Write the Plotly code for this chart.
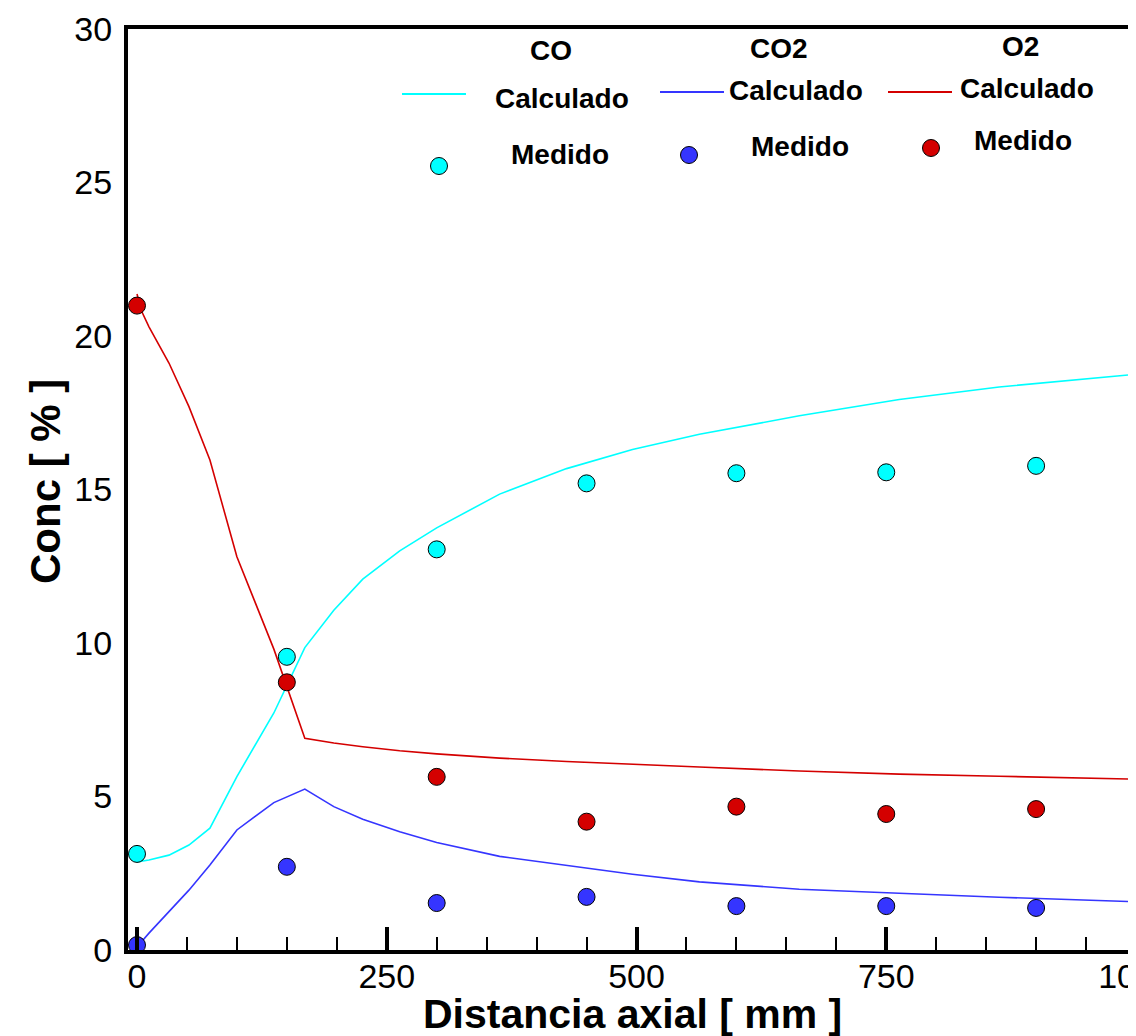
import plotly.graph_objects as go

# ---------------- data ----------------
x_calc = [0, 5, 12, 32, 52, 73, 100, 137, 168, 197, 226, 263, 300, 363, 430, 496, 563, 663, 763, 863, 992]
co_calc = [2.87, 2.89, 2.93, 3.09, 3.42, 3.97, 5.65, 7.72, 9.85, 11.07, 12.08, 13.0, 13.75, 14.85, 15.68,
           16.3, 16.8, 17.4, 17.93, 18.34, 18.73]
co2_calc = [0.1, 0.3, 0.55, 1.25, 1.95, 2.77, 3.91, 4.8, 5.24, 4.67, 4.26, 3.85, 3.5, 3.05, 2.75,
            2.47, 2.22, 1.98, 1.85, 1.72, 1.58]
o2_calc = [21.37, 20.78, 20.3, 19.12, 17.7, 15.96, 12.81, 9.8, 6.9, 6.74, 6.62, 6.49, 6.39, 6.25, 6.14,
           6.04, 5.96, 5.83, 5.73, 5.66, 5.57]

x_meas = [0, 150, 300, 450, 600, 750, 900]
co_meas = [3.13, 9.55, 13.05, 15.2, 15.53, 15.56, 15.77]
co2_meas = [0.16, 2.71, 1.53, 1.73, 1.43, 1.43, 1.37]
o2_meas = [20.99, 8.72, 5.64, 4.18, 4.67, 4.43, 4.59]

x_ticks = [0, 250, 500, 750, 1000]
y_ticks = [0, 5, 10, 15, 20, 25, 30]

CYAN = "#00FFFF"
BLUE = "#3535FF"
RED = "#D40000"
FONT = "Liberation Sans, Arial, sans-serif"

# ---------------- layout geometry ----------------
# the page body adds an 8 px offset; figure coords = screen coords - 8
OFF = 8
W, H = 1128, 1028
L, R, T, B = 120, 1128, 21, 942   # plot area in figure pixels


def px(xs):
    """screen x pixel -> paper fraction"""
    return (xs - OFF - L) / (R - L)


def py(ys):
    """screen y pixel -> paper fraction"""
    return (B - (ys - OFF)) / (B - T)


fig = go.Figure()

for xs, ys, c in [(x_calc, co_calc, CYAN), (x_calc, co2_calc, BLUE), (x_calc, o2_calc, RED)]:
    fig.add_trace(go.Scatter(x=xs, y=ys, mode="lines", line=dict(color=c, width=1.6),
                             showlegend=False, hoverinfo="skip"))

for xs, ys, c in [(x_meas, co_meas, CYAN), (x_meas, co2_meas, BLUE), (x_meas, o2_meas, RED)]:
    fig.add_trace(go.Scatter(x=xs, y=ys, mode="markers",
                             marker=dict(color=c, size=17, line=dict(color="black", width=1)),
                             cliponaxis=False, showlegend=False))

# ---------------- custom legend ----------------
shapes = []
annotations = []
leg_font = dict(family=FONT, size=28, color="black")

legend_items = [
    # header, header pos, line span/y, calc text pos, marker pos, medido pos, color  (screen px)
    ("CO", (551, 50), (402, 466, 94), (562, 98), (439, 166), (560, 155), CYAN),
    ("CO2", (779, 48), (660, 724, 92), (796, 90), (689, 155), (800, 147), BLUE),
    ("O2", (1020, 46), (888, 952, 92), (1027, 88), (931, 148), (1023, 140), RED),
]
for name, hp, ln, cp, mp, mdp, col in legend_items:
    annotations.append(dict(text="<b>%s</b>" % name, x=px(hp[0]), y=py(hp[1]), xref="paper", yref="paper",
                            showarrow=False, xanchor="center", yanchor="middle", font=leg_font))
    annotations.append(dict(text="<b>Calculado</b>", x=px(cp[0]), y=py(cp[1]), xref="paper", yref="paper",
                            showarrow=False, xanchor="center", yanchor="middle", font=leg_font))
    annotations.append(dict(text="<b>Medido</b>", x=px(mdp[0]), y=py(mdp[1]), xref="paper", yref="paper",
                            showarrow=False, xanchor="center", yanchor="middle", font=leg_font))
    shapes.append(dict(type="line", xref="paper", yref="paper", x0=px(ln[0]), x1=px(ln[1]),
                       y0=py(ln[2]), y1=py(ln[2]), line=dict(color=col, width=2)))
    r = 8.5
    shapes.append(dict(type="circle", xref="paper", yref="paper",
                       x0=px(mp[0] - r), x1=px(mp[0] + r), y0=py(mp[1] + r), y1=py(mp[1] - r),
                       fillcolor=col, line=dict(color="black", width=1)))

# axis titles
annotations.append(dict(text="<b>Distancia axial [ mm ]</b>", x=px(632), y=py(1014), xref="paper", yref="paper",
                        showarrow=False, xanchor="center", yanchor="middle",
                        font=dict(family=FONT, size=41, color="black")))
annotations.append(dict(text="<b>Conc [ % ]</b>", x=px(45), y=py(482), xref="paper", yref="paper",
                        showarrow=False, xanchor="center", yanchor="middle", textangle=-90,
                        font=dict(family=FONT, size=42, color="black")))

fig.update_layout(
    width=W, height=H,
    margin=dict(l=L, r=W - R, t=T, b=H - B, pad=0),
    paper_bgcolor="white", plot_bgcolor="white",
    showlegend=False,
    shapes=shapes, annotations=annotations,
    font=dict(family=FONT, color="black"),
)

fig.update_xaxes(
    range=[-9, 1000], tickvals=x_ticks, ticktext=[str(v) for v in x_ticks],
    showgrid=False, zeroline=False, automargin=False,
    showline=True, linecolor="black", linewidth=4, mirror=True,
    ticks="inside", ticklen=23, tickwidth=4, tickcolor="black",
    minor=dict(dtick=50, tick0=0, ticks="inside", ticklen=13, tickwidth=1.5, tickcolor="black"),
    tickfont=dict(family=FONT, size=34, color="black"), ticklabelstandoff=-7,
    ticklabeloverflow="allow",
)
fig.update_yaxes(
    range=[0, 30], tickvals=y_ticks, ticktext=[str(v) for v in y_ticks],
    showgrid=False, zeroline=False, automargin=False,
    showline=True, linecolor="black", linewidth=4, mirror=False,
    ticks="", tickfont=dict(family=FONT, size=34, color="black"), ticklabelstandoff=5,
)

fig.write_html("out.html")
